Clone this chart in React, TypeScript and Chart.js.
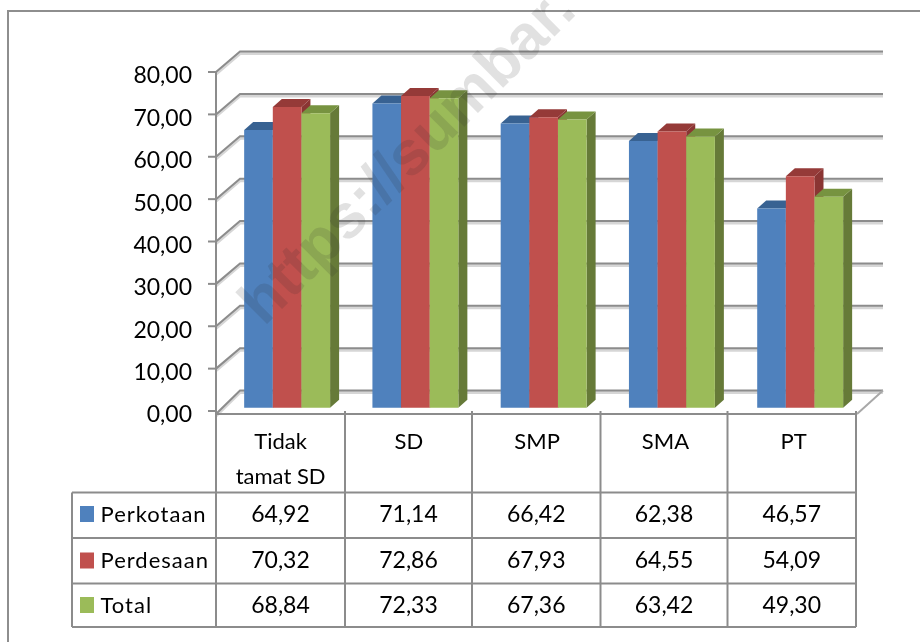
import React, { useEffect, useRef } from "react";
import { Chart, registerables } from "chart.js";

Chart.register(...registerables);

const categories = [["Tidak", "tamat SD"], "SD", "SMP", "SMA", "PT"];
const perkotaan = [64.92, 71.14, 66.42, 62.38, 46.57];
const perdesaan = [70.32, 72.86, 67.93, 64.55, 54.09];
const total = [68.84, 72.33, 67.36, 63.42, 49.3];
const seriesNames = ["Perkotaan", "Perdesaan", "Total"];
const yTicks = [0, 10, 20, 30, 40, 50, 60, 70, 80];
const watermark = "https://sumbar.";

const FONT = "Lato";
const GRID = "#8c8c8c";
const fmt = (v: number) => v.toFixed(2).replace(".", ",");

const shades = [
  { front: "#4F81BD", side: "#3A6090", top: "#386292" },
  { front: "#C0504D", side: "#8A3533", top: "#953A38" },
  { front: "#9BBB59", side: "#667A38", top: "#779340" },
];

function line(ctx: CanvasRenderingContext2D, pts: number[][], color = GRID, w = 2) {
  ctx.strokeStyle = color;
  ctx.lineWidth = w;
  ctx.beginPath();
  pts.forEach((p, i) => (i ? ctx.lineTo(p[0], p[1]) : ctx.moveTo(p[0], p[1])));
  ctx.stroke();
}

const DX = 9;
const DY = 8;

const threeD = {
  id: "threeD",
  beforeDraw(chart: any) {
    const ctx = chart.ctx;
    ctx.save();
    ctx.fillStyle = "#fff";
    ctx.fillRect(0, 0, chart.width, chart.height);
    line(ctx, [[8, 642], [8, 11], [920, 11]], "#8e8e8e", 2);
    ctx.restore();
  },
  beforeDatasetsDraw(chart: any) {
    const ctx = chart.ctx;
    const s = chart.scales.yLabels;
    ctx.save();
    const backDx = 24;
    const backDy = 20.5;
    const right = 883;
    s.ticks.forEach((t: any) => {
      const y = s.getPixelForValue(t.value);
      const floor = t.value === 0 ? 3 : 0;
      line(ctx, [[216, y + floor + 2], [216 + backDx, y - backDy + 2], [right, y - backDy + 2]], "#d6d6d6", 3);
      line(ctx, [[216, y + floor], [216 + backDx, y - backDy], [right, y - backDy]], GRID, 2);
      line(ctx, [[208, y], [216, y]], GRID, 2);
    });
    const y0 = s.getPixelForValue(0);
    line(ctx, [[883, y0 - backDy], [857, y0 + 3]], "#a8a8a8", 2);
    line(ctx, [[216, s.getPixelForValue(80)], [216, 627]], GRID, 2);
    ctx.restore();
  },
  // The library paints the first dataset last; bars here must overlap left to right.
  beforeDatasetDraw() {
    return false;
  },
  afterDatasetsDraw(chart: any) {
    const ctx = chart.ctx;
    ctx.save();
    chart.data.datasets.forEach((_: any, i: number) => {
      const c = shades[i];
      const bars = chart.getDatasetMeta(i).data;
      bars.forEach((b: any) => {
        const p = b.getProps(["x", "y", "base", "width"], true);
        const l = p.x - p.width / 2;
        const r = p.x + p.width / 2;
        ctx.fillStyle = c.side;
        ctx.beginPath();
        ctx.moveTo(r, p.y);
        ctx.lineTo(r + DX, p.y - DY);
        ctx.lineTo(r + DX, p.base - DY);
        ctx.lineTo(r, p.base);
        ctx.closePath();
        ctx.fill();
        ctx.fillStyle = c.top;
        ctx.beginPath();
        ctx.moveTo(l, p.y);
        ctx.lineTo(l + DX, p.y - DY);
        ctx.lineTo(r + DX, p.y - DY);
        ctx.lineTo(r, p.y);
        ctx.closePath();
        ctx.fill();
        b.draw(ctx);
      });
    });
    ctx.restore();
  },
  afterDraw(chart: any) {
    const ctx = chart.ctx;
    ctx.save();
    // data table
    const cols = [216, 345, 472, 600.5, 727.5, 856];
    const rows = [492.5, 538, 583.5, 627];
    const top = chart.scales.yLabels.getPixelForValue(0);
    cols.slice(1).forEach((x) => line(ctx, [[x, top], [x, 627]]));
    rows.forEach((y) => line(ctx, [[72, y], [856, y]]));
    line(ctx, [[216, top + 3], [856, top + 3]], GRID, 2);
    line(ctx, [[72, 492.5], [72, 627]]);
    ctx.fillStyle = "#000";
    ctx.textBaseline = "middle";
    const textY = [515, 560.5, 606];
    const swatchY = [506, 552.5, 597];
    chart.data.datasets.forEach((ds: any, i: number) => {
      ctx.fillStyle = ds.backgroundColor;
      ctx.fillRect(80, swatchY[i], 14, 16);
      ctx.fillStyle = "#000";
      ctx.font = `22px ${FONT}`;
      ctx.textAlign = "left";
      ctx.letterSpacing = "1px";
      ctx.fillText(seriesNames[i], 100.5, textY[i]);
      ctx.letterSpacing = "0px";
      ctx.font = `23px ${FONT}`;
      ctx.textAlign = "center";
      ds.data.forEach((v: number, j: number) => {
        ctx.fillText(fmt(v), (cols[j] + cols[j + 1]) / 2, textY[i]);
      });
    });
    // watermark
    ctx.translate(264, 327);
    ctx.rotate(-Math.PI / 4);
    ctx.font = `bold 62px "Liberation Sans"`;
    ctx.textAlign = "left";
    ctx.textBaseline = "alphabetic";
    ctx.fillStyle = "rgba(40,40,40,0.14)";
    ctx.fillText(watermark, 0, 0);
    ctx.restore();
  },
};

export default function App() {
  const ref = useRef<HTMLCanvasElement>(null);
  useEffect(() => {
    const chart = new Chart(ref.current as HTMLCanvasElement, {
      type: "bar",
      data: {
        labels: categories as any,
        datasets: [perkotaan, perdesaan, total].map((data, i) => ({
          label: seriesNames[i],
          data,
          backgroundColor: shades[i].front,
          borderWidth: 0,
        })),
      },
      options: {
        responsive: false,
        animation: false,
        layout: { padding: { left: 0, right: 55.7, top: 51, bottom: 150 } },
        datasets: { bar: { categoryPercentage: 0.67, barPercentage: 1 } },
        plugins: { legend: { display: false }, tooltip: { enabled: false } },
        scales: {
          x: {
            grid: { display: false },
            border: { display: false },
            afterFit: (s: any) => { s.height = 78; },
            ticks: {
              maxRotation: 0,
              autoSkip: false,
              labelOffset: -6.5,
              padding: 2,
              color: "#000",
              font: { family: FONT, size: 22, lineHeight: 35 / 22 },
            },
          },
          y: {
            display: false,
            min: -1.473,
            max: 83.4,
          },
          yLabels: {
            position: "left",
            min: -0.708,
            max: 84.96,
            afterBuildTicks: (s: any) => { s.ticks = yTicks.map((value) => ({ value })); },
            afterFit: (s: any) => { s.width = 223; },
            grid: { display: false },
            border: { display: false },
            ticks: {
              padding: 23,
              labelOffset: 4,
              color: "#000",
              font: { family: FONT, size: 23 },
              callback: (v: any) => fmt(Number(v)),
            },
          },
        },
      } as any,
      plugins: [threeD],
    });
    return () => chart.destroy();
  }, []);
  return (
    <div style={{ position: "absolute", left: 0, top: 0 }}>
      <canvas ref={ref} width={920} height={642} style={{ display: "block" }} />
    </div>
  );
}
